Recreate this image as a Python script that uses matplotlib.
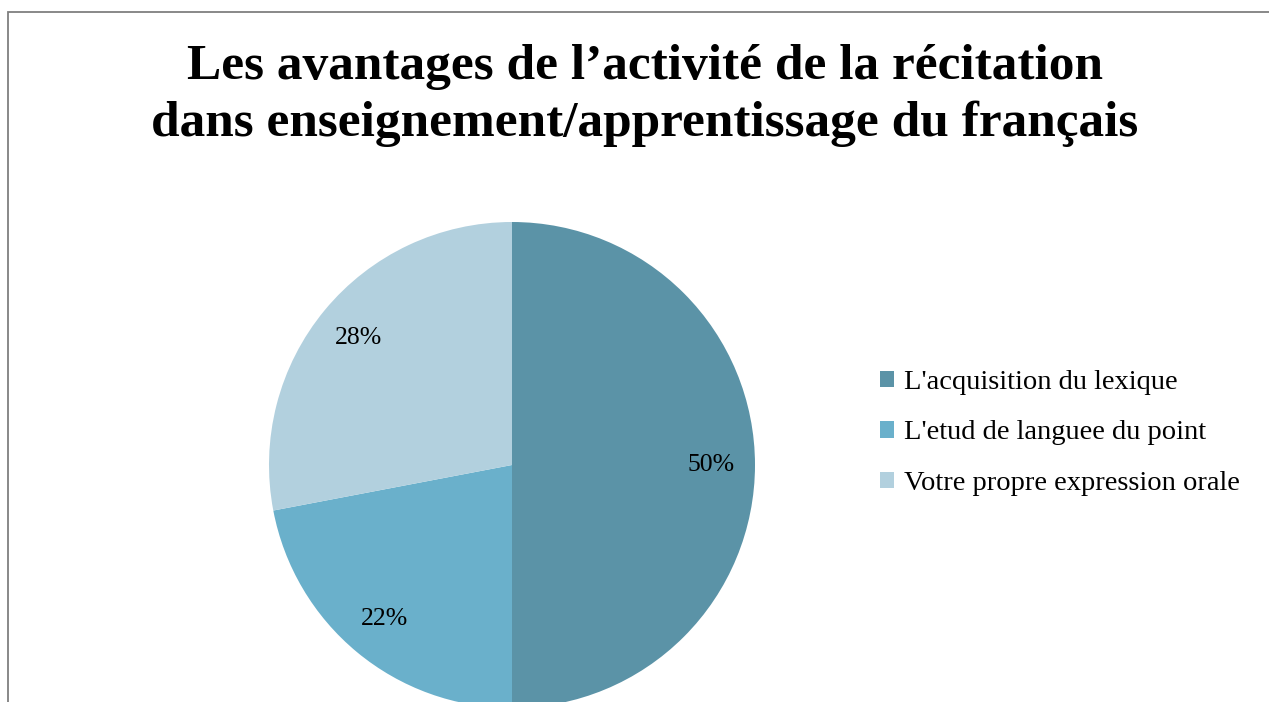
import matplotlib
matplotlib.use("Agg")
import matplotlib.pyplot as plt
from matplotlib.patches import Rectangle

title_lines = ["Les avantages de l’activité de la récitation",
               "dans enseignement/apprentissage du français"]
categories = ["L'acquisition du lexique",
              "L'etud de languee du point",
              "Votre propre expression orale"]
values = [50, 22, 28]
colors = ["#5B93A7", "#6AB0CB", "#B2D0DE"]

W, H = 1269, 702
fig = plt.figure(figsize=(W / 100, H / 100), dpi=100)
fig.patch.set_facecolor("white")

# outer chart border (extends past right/bottom edges)
fig.add_artist(Rectangle((8 / W, -0.05), 1.2, 1 - 12 / H + 0.05,
                         transform=fig.transFigure, fill=False,
                         edgecolor="#7f7f7f", linewidth=1.3))

serif = ["Liberation Serif", "DejaVu Serif"]

fig.text(645 / W, 1 - 79 / H, title_lines[0], ha="center", va="baseline",
         fontsize=37, fontweight="bold", family=serif)
fig.text(645 / W, 1 - 136 / H, title_lines[1], ha="center", va="baseline",
         fontsize=37, fontweight="bold", family=serif)

ax = fig.add_axes([269 / W, -6 / H, 486 / W, 486 / H])
wedges, texts, autotexts = ax.pie(
    values, colors=colors, startangle=90, counterclock=False,
    autopct=lambda p: f"{p:.0f}%", pctdistance=0.82,
    textprops=dict(fontsize=18.5, family=serif, color="black"),
    wedgeprops=dict(linewidth=0))
ax.set_xlim(-1, 1)
ax.set_ylim(-1, 1)
ax.set_aspect("equal")
ax.axis("off")

fig.legend(wedges, categories, loc="center left",
           bbox_to_anchor=(880 / W, 1 - 433 / H), frameon=False,
           borderpad=0, borderaxespad=0,
           handlelength=0.5, handleheight=0.5, handletextpad=0.34,
           labelspacing=0.9, prop=dict(family=serif, size=20.5))

fig.savefig("out.png", dpi=100, facecolor="white")
